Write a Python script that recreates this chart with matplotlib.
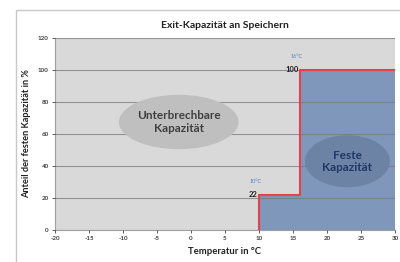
import numpy as np
import matplotlib.pyplot as plt
from matplotlib.patches import Ellipse, Rectangle

plt.rcParams['font.family'] = ['Lato', 'DejaVu Sans']
plt.rcParams['axes.unicode_minus'] = False

# step curve of firm exit capacity
temp = [10, 10, 16, 16, 30]
share = [0, 22, 22, 100, 100]
fill_x = [10, 16, 16, 30]
fill_y = [22, 22, 100, 100]

xticks = [-20, -15, -10, -5, 0, 5, 10, 15, 20, 25, 30]
yticks = [0, 20, 40, 60, 80, 100, 120]

fig = plt.figure(figsize=(4, 2.62), dpi=100)
fig.patch.set_facecolor('white')

# outer chart frame
fig.patches.append(Rectangle((16/400, -0.05), 1.2, 1 - 10/262 + 0.05,
                             transform=fig.transFigure, fill=False,
                             edgecolor='#c8c8c8', lw=1.0))

ax = fig.add_axes([55/400, 32/262, 340/400, 192/262])
ax.set_facecolor('#d9d9d9')
ax.set_xlim(-20, 30)
ax.set_ylim(0, 120)

ax.fill_between(fill_x, 0, fill_y, color='#7f97ba', zorder=1, lw=0)
ax.grid(axis='y', color='#7a7a7a', lw=0.8, alpha=0.75, zorder=2)
ax.set_axisbelow(False)
ax.plot(temp, share, color='#e8404a', lw=1.5, zorder=4)

ax.add_patch(Ellipse((-1.8, 67.5), 17.6, 34, color='#bfbfbf', zorder=3, lw=0))
ax.text(-1.8, 67.5, 'Unterbrechbare\nKapazität', ha='center', va='center',
        fontsize=8.5, fontweight='bold', color='#404040', zorder=5, linespacing=1.15)
ax.add_patch(Ellipse((23, 43), 12.5, 32.5, color='#6d83a6', zorder=3, lw=0))
ax.text(23, 43, 'Feste\nKapazität', ha='center', va='center',
        fontsize=8.5, fontweight='bold', color='#1f3864', zorder=5, linespacing=1.15)

ax.text(15.8, 100, '100', ha='right', va='center', fontsize=5.5,
        fontweight='bold', color='#202020', zorder=5)
ax.text(15.5, 107, '16°C', ha='center', va='bottom', fontsize=4,
        color='#4f81bd', zorder=5)
ax.text(9.8, 22, '22', ha='right', va='center', fontsize=5.5,
        fontweight='bold', color='#202020', zorder=5)
ax.text(9.5, 29, '10°C', ha='center', va='bottom', fontsize=4,
        color='#4f81bd', zorder=5)

ax.set_xticks(xticks)
ax.set_yticks(yticks)
ax.tick_params(labelsize=4.5, colors='#404040', length=2, width=0.6, pad=2.5)
for lab in ax.get_xticklabels() + ax.get_yticklabels():
    lab.set_fontweight('bold')
for s in ['top', 'right']:
    ax.spines[s].set_visible(False)
ax.spines['left'].set_color('#a0a0a0')
ax.spines['bottom'].set_color('#a0a0a0')

ax.set_title('Exit-Kapazität an Speichern', fontsize=7.5, fontweight='bold',
             color='#202020', pad=7)
ax.set_xlabel('Temperatur in °C', fontsize=6.8, fontweight='bold',
              color='#202020', labelpad=4)
ax.set_ylabel('Anteil der festen Kapazität in %', fontsize=6.6, fontweight='bold',
              color='#202020', labelpad=5)

fig.savefig('out.png', dpi=100)
